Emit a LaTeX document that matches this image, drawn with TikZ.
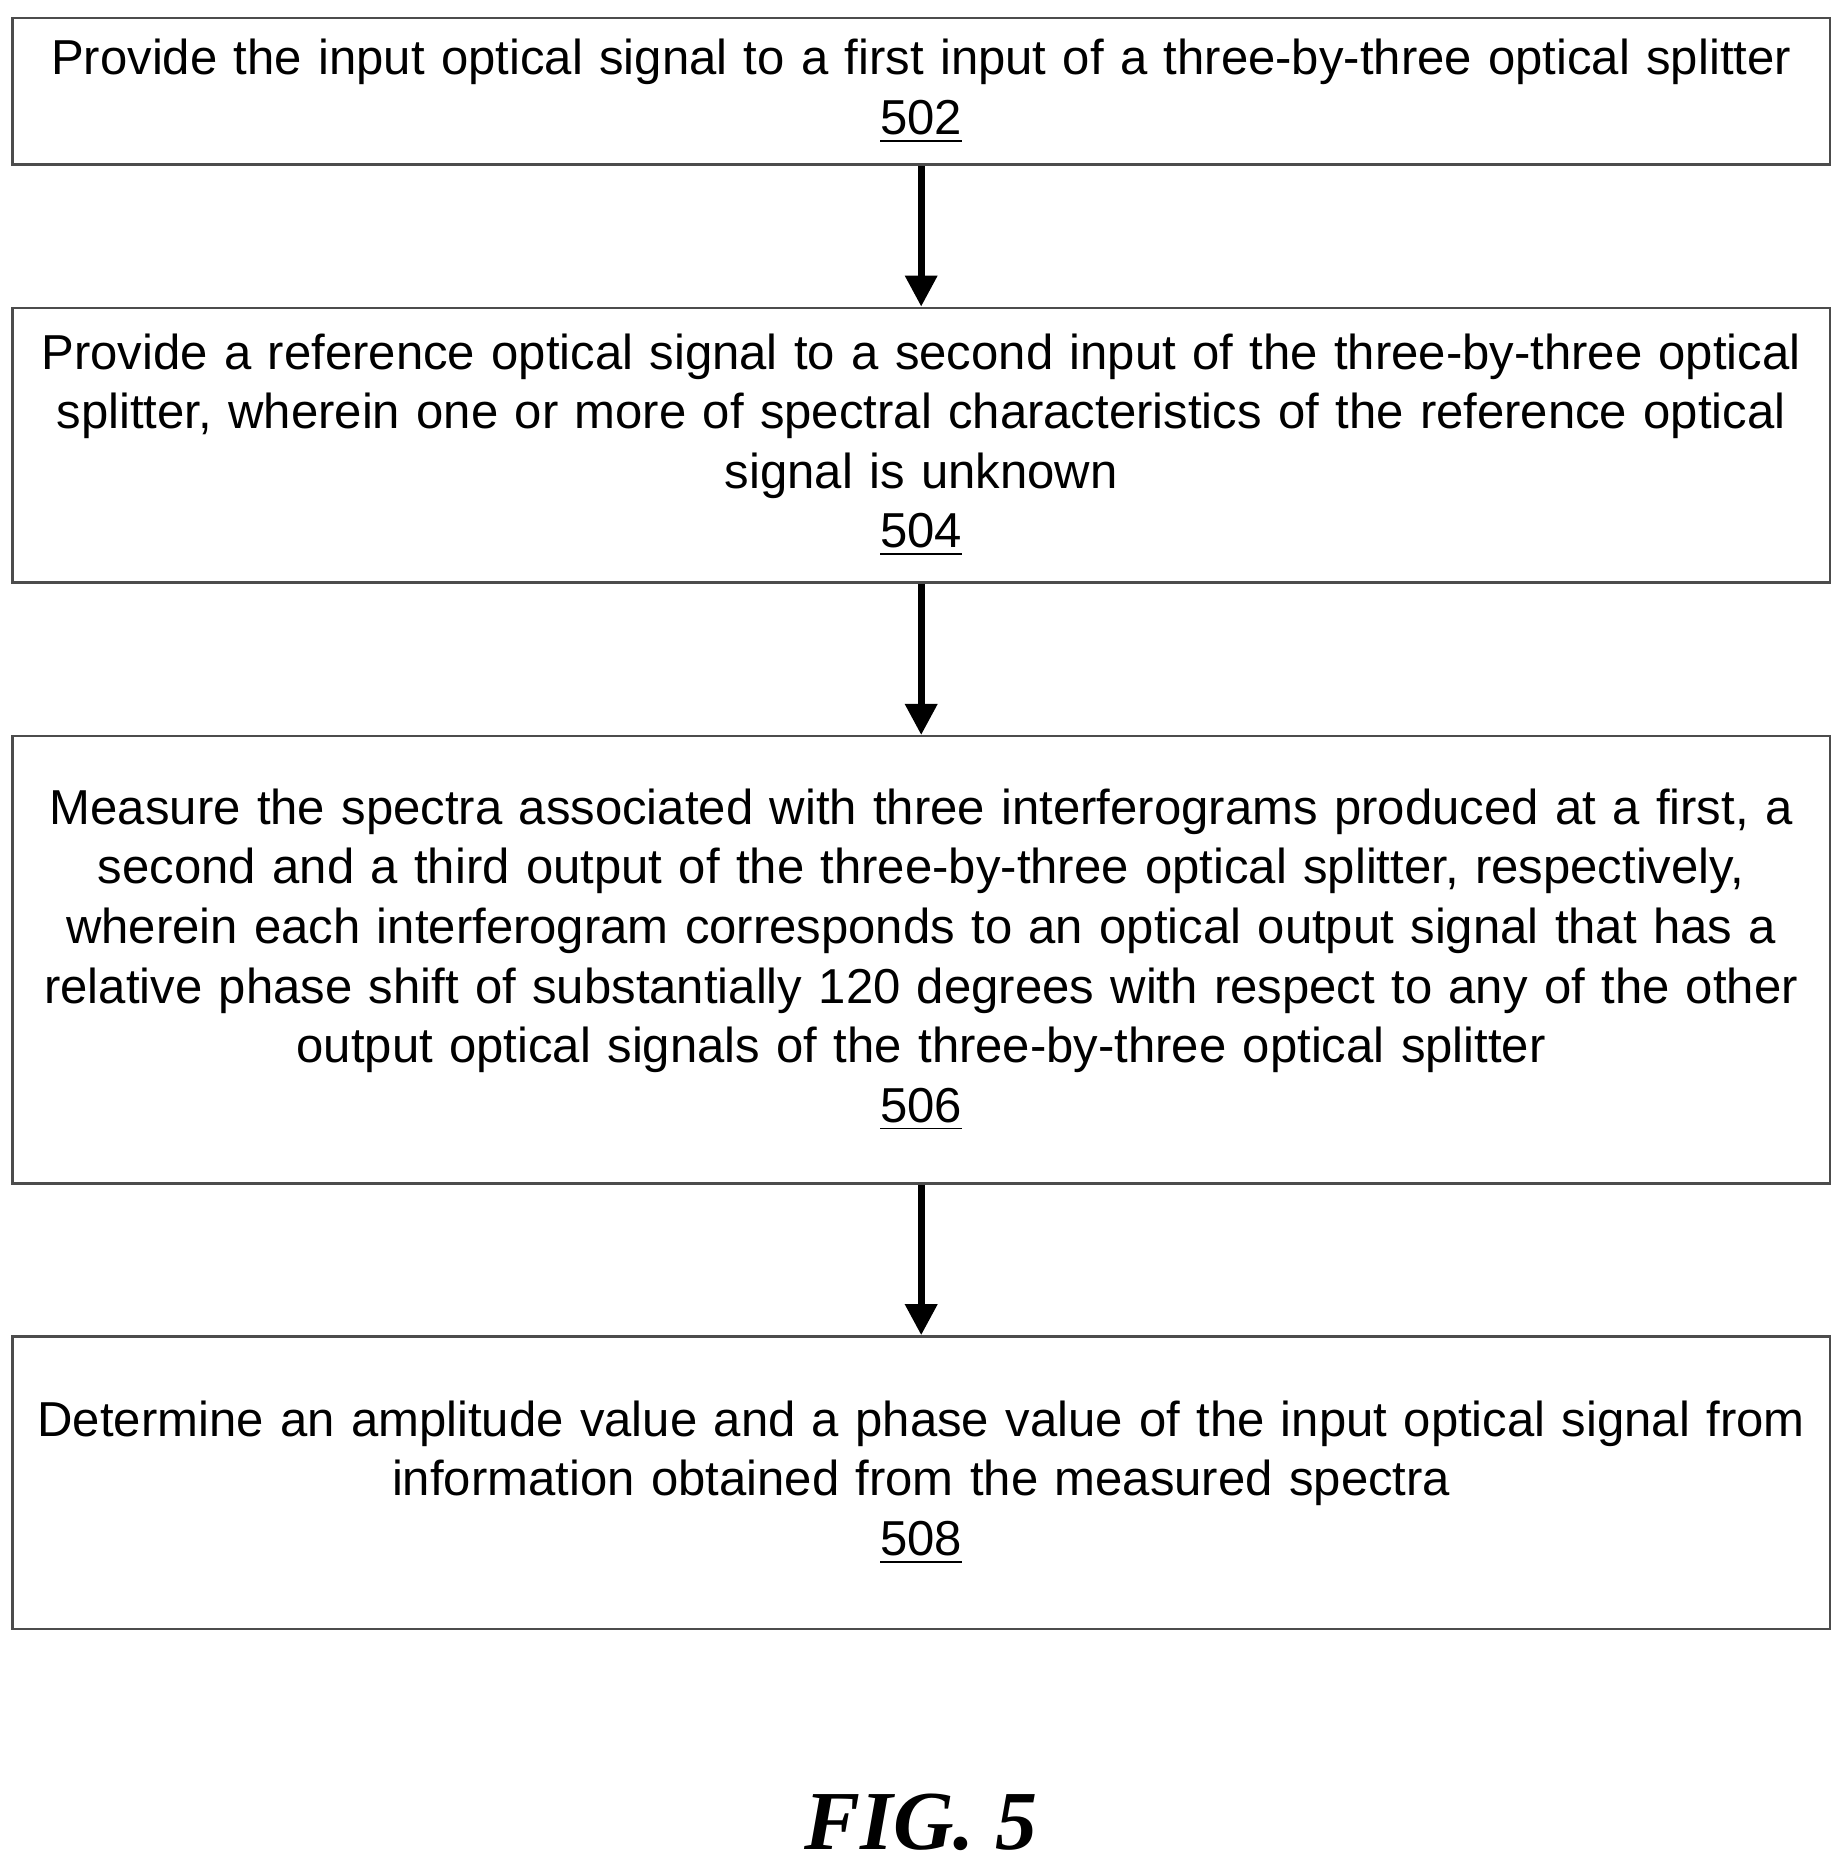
\documentclass[tikz,border=0pt]{standalone}
\usepackage{fontspec}
\setmainfont{Liberation Sans}
\newfontfamily\figfont{Liberation Serif}
\usetikzlibrary{arrows.meta}
\tikzstyle{stepbox} = [rectangle, minimum width=15.08cm, text width=15.0cm, align=center, draw=black!70, line width=0.6pt, font=\fontsize{11.7pt}{14.2pt}\selectfont]
\tikzstyle{arrow} = [line width=1.6pt, -{Triangle[length=0.26cm, width=0.26cm]}]

\begin{document}
\begin{tikzpicture}
    \useasboundingbox (0,0) rectangle (15.44,-15.68);

    % Nodes
    \node (s502) [stepbox, minimum height=1.23cm] at (7.72,-0.765) {Provide the input optical signal to a first input of a three-by-three optical splitter\\\underline{502}};
    \node (s504) [stepbox, minimum height=2.30cm] at (7.72,-3.73) {Provide a reference optical signal to a second input of the three-by-three optical\\splitter, wherein one or more of spectral characteristics of the reference optical\\signal is unknown\\\underline{504}};
    \node (s506) [stepbox, minimum height=3.75cm] at (7.72,-8.045) {Measure the spectra associated with three interferograms produced at a first, a\\second and a third output of the three-by-three optical splitter, respectively,\\wherein each interferogram corresponds to an optical output signal that has a\\relative phase shift of substantially 120 degrees with respect to any of the other\\output optical signals of the three-by-three optical splitter\\\underline{506}};
    \node (s508) [stepbox, minimum height=2.45cm] at (7.72,-12.425) {Determine an amplitude value and a phase value of the input optical signal from\\information obtained from the measured spectra\\\underline{508}};

    \node (fig) at (7.72,-15.27) {\figfont\bfseries\itshape\fontsize{20pt}{24pt}\selectfont FIG. 5};

    % Arrows
    \draw [arrow] (s502) -- (s504);
    \draw [arrow] (s504) -- (s506);
    \draw [arrow] (s506) -- (s508);

\end{tikzpicture}
\end{document}
